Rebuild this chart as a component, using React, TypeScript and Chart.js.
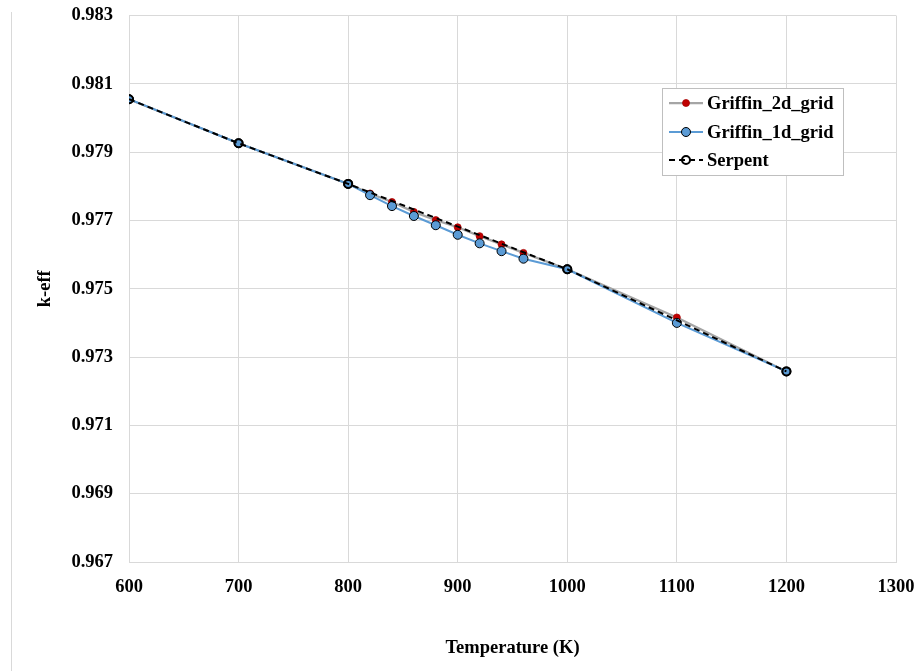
import React, { useEffect, useRef } from "react";
import { Chart, registerables } from "chart.js";

Chart.register(...registerables);

const X_TICKS = [600, 700, 800, 900, 1000, 1100, 1200, 1300];

const serpentT = [600, 700, 800, 1000, 1200];
const serpentK = [0.98055, 0.97926, 0.97807, 0.97557, 0.97258];

const g1dT = [600, 700, 800, 820, 840, 860, 880, 900, 920, 940, 960, 1000, 1100, 1200];
const g1dK = [0.98055, 0.97926, 0.97807, 0.97774, 0.97742, 0.97713, 0.97686, 0.97658, 0.97633, 0.9761, 0.97588, 0.97557, 0.974, 0.97258];

const g2dT = [600, 700, 800, 820, 840, 860, 880, 900, 920, 940, 960, 1000, 1100, 1200];
const g2dK = [0.98055, 0.97926, 0.97807, 0.97779, 0.97754, 0.97725, 0.97701, 0.9768, 0.97654, 0.9763, 0.97605, 0.97557, 0.97416, 0.97258];

const FONT = "'Liberation Serif', 'Times New Roman', serif";

const toXY = (xs: number[], ys: number[]) => xs.map((x, i) => ({ x, y: ys[i] }));

const legendPlugin = {
  id: "insideLegend",
  afterDraw(chart: any) {
    const ctx = chart.ctx;
    const bx = 662, by = 88, bw = 181, bh = 87;
    ctx.save();
    ctx.fillStyle = "#ffffff";
    ctx.fillRect(bx, by, bw, bh);
    ctx.strokeStyle = "#BFBFBF";
    ctx.lineWidth = 1;
    ctx.strokeRect(bx + 0.5, by + 0.5, bw, bh);
    const items = [0, 1, 2];
    const rows = [103, 132, 160];
    items.forEach((di, i) => {
      const ds = chart.data.datasets[di];
      const y = rows[i];
      ctx.save();
      ctx.strokeStyle = ds.borderColor;
      ctx.lineWidth = ds.borderWidth;
      ctx.setLineDash(ds.borderDash || []);
      ctx.beginPath();
      ctx.moveTo(669, y);
      ctx.lineTo(703, y);
      ctx.stroke();
      ctx.setLineDash([]);
      ctx.beginPath();
      ctx.arc(686, y, ds.pointRadius, 0, Math.PI * 2);
      ctx.fillStyle = ds.pointBackgroundColor;
      ctx.fill();
      ctx.strokeStyle = ds.pointBorderColor;
      ctx.lineWidth = ds.pointBorderWidth;
      ctx.stroke();
      ctx.restore();
      ctx.fillStyle = "#000";
      ctx.font = `bold 18.5px ${FONT}`;
      ctx.textBaseline = "middle";
      ctx.textAlign = "left";
      ctx.fillText(ds.label, 707, y + 1);
    });
    ctx.restore();
  },
};

export default function App() {
  const ref = useRef<HTMLCanvasElement | null>(null);
  useEffect(() => {
    if (!ref.current) return;
    const chart = new Chart(ref.current, {
      type: "line",
      data: {
        datasets: [
          {
            label: "Griffin_2d_grid",
            data: toXY(g2dT, g2dK),
            borderColor: "#A5A5A5",
            borderWidth: 2.25,
            pointRadius: 3.5,
            pointBackgroundColor: "#C00000",
            pointBorderColor: "#A50000",
            pointBorderWidth: 0.75,
            order: 2,
          },
          {
            label: "Griffin_1d_grid",
            data: toXY(g1dT, g1dK),
            borderColor: "#5B9BD5",
            borderWidth: 2,
            pointRadius: 4.5,
            pointBackgroundColor: "#5B9BD5",
            pointBorderColor: "#000000",
            pointBorderWidth: 1,
            order: 1,
          },
          {
            label: "Serpent",
            data: toXY(serpentT, serpentK),
            borderColor: "#000000",
            borderWidth: 2,
            borderDash: [6, 4],
            pointRadius: 4,
            pointBackgroundColor: "rgba(0,0,0,0)",
            pointBorderColor: "#000000",
            pointBorderWidth: 2,
            order: 0,
          },
        ] as any,
      },
      options: {
        animation: false,
        responsive: false,
        layout: { padding: 0 },
        plugins: { legend: { display: false }, tooltip: { enabled: false } },
        elements: { line: { tension: 0 } },
        scales: {
          x: {
            type: "linear",
            min: 600,
            max: 1300,
            afterBuildTicks: (s: any) => {
              s.ticks = X_TICKS.map((v) => ({ value: v }));
            },
            afterFit: (s: any) => {
              s.height = 109;
              s.paddingLeft = 0;
              s.paddingRight = 28;
            },
            grid: { color: "#D9D9D9", drawTicks: false, lineWidth: 1 },
            border: { color: "#D9D9D9" },
            ticks: {
              color: "#000",
              padding: 14,
              font: { family: FONT, size: 18.5, weight: "bold" },
              maxRotation: 0,
              callback: (v: any) => String(v),
            },
            title: {
              display: true,
              text: "Temperature (K)",
              color: "#000",
              font: { family: FONT, size: 18.5, weight: "bold" },
              padding: { top: 0, bottom: 12 },
            },
          },
          y: {
            type: "linear",
            min: 0.967,
            max: 0.983,
            ticks: {
              stepSize: 0.002,
              color: "#000",
              padding: 16,
              font: { family: FONT, size: 18.5, weight: "bold" },
              callback: (v: any) => Number(v).toFixed(3),
            },
            afterFit: (s: any) => {
              s.width = 129;
              s.paddingTop = 15.5;
              s.paddingBottom = 0;
            },
            grid: { color: "#D9D9D9", drawTicks: false, lineWidth: 1 },
            border: { color: "#D9D9D9" },
            title: {
              display: true,
              text: "k-eff",
              color: "#000",
              font: { family: FONT, size: 18.5, weight: "bold" },
              padding: { top: 34, bottom: 0 },
            },
          },
        },
      } as any,
      plugins: [legendPlugin],
    });
    return () => chart.destroy();
  }, []);
  return (
    <div style={{ position: "absolute", left: 0, top: 0, width: 924, height: 671, background: "#fff", overflow: "hidden" }}>
      <div style={{ position: "absolute", left: 11, top: 12, width: 2000, height: 2000, borderLeft: "1px solid #D9D9D9" }} />
      <canvas ref={ref} width={924} height={671} style={{ position: "absolute", left: 0, top: 0, width: 924, height: 671 }} />
    </div>
  );
}
